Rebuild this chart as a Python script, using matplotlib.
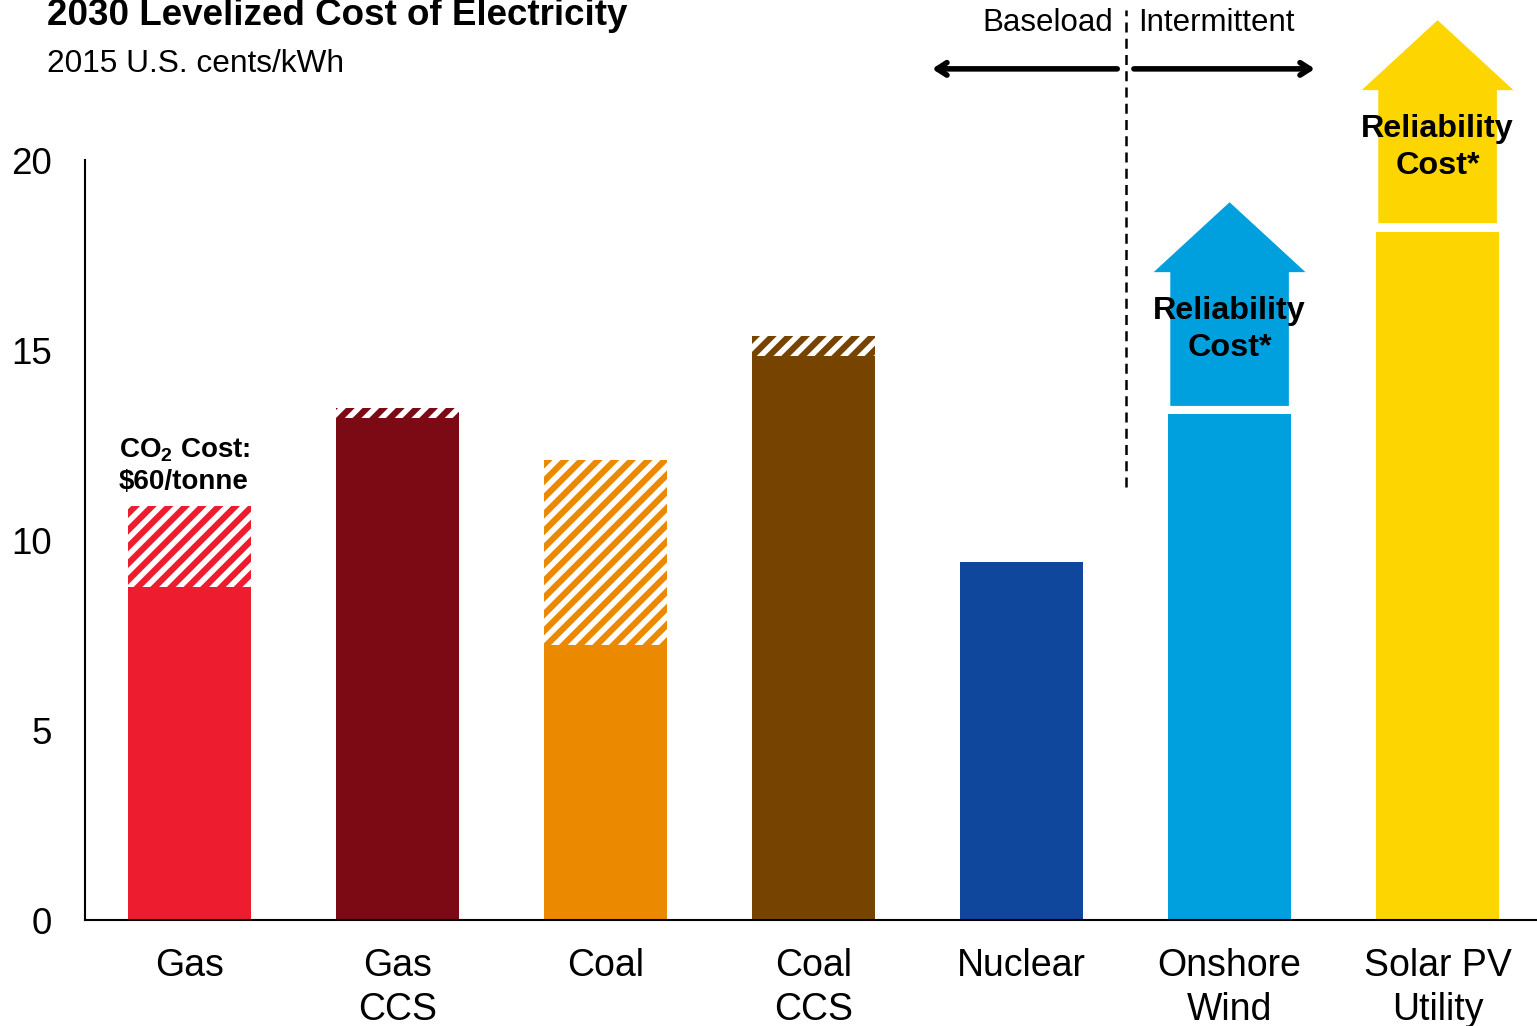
import matplotlib.pyplot as plt
from matplotlib.patches import Polygon

plt.rcParams['font.family'] = ['Liberation Sans', 'DejaVu Sans']
plt.rcParams['hatch.linewidth'] = 4.0
plt.rcParams['mathtext.fontset'] = 'custom'
plt.rcParams['mathtext.bf'] = 'Liberation Sans:bold'

# data (2015 U.S. cents/kWh)
categories = ['Gas', 'Gas\nCCS', 'Coal', 'Coal\nCCS', 'Nuclear', 'Onshore\nWind', 'Solar PV\nUtility']
base_cost = [8.76, 13.2, 7.24, 14.84, 9.42, 13.32, 18.11]
co2_cost = [2.13, 0.27, 4.86, 0.53, 0, 0, 0]
colors = ['#ED1C2E', '#7B0A14', '#EB8A00', '#774400', '#0E479C', '#00A0DF', '#FDD500']

# reliability cost arrows: (category index, shaft bottom, head base, tip)
rel_idx = [5, 6]
rel_bottom = [13.53, 18.34]
rel_head = [17.05, 21.84]
rel_tip = [18.89, 23.68]

yticks = [0, 5, 10, 15, 20]

fig = plt.figure(figsize=(15.37, 10.26), dpi=100)
ax = fig.add_axes([0.0556, 0.1033, 0.9474, 0.7407])

x = list(range(len(categories)))
bar_w = 0.59
ax.bar(x, base_cost, width=bar_w, color=colors, linewidth=0)
for i in x:
    if co2_cost[i] > 0:
        ax.bar(i, co2_cost[i], bottom=base_cost[i], width=bar_w, color=colors[i],
               edgecolor='white', hatch='//', linewidth=0)

shaft_w = 0.57
head_w = 0.73
for k, i in enumerate(rel_idx):
    b, h, t = rel_bottom[k], rel_head[k], rel_tip[k]
    pts = [(i - shaft_w / 2, b), (i + shaft_w / 2, b), (i + shaft_w / 2, h),
           (i + head_w / 2, h), (i, t), (i - head_w / 2, h), (i - shaft_w / 2, h)]
    ax.add_patch(Polygon(pts, closed=True, facecolor=colors[i], edgecolor='none',
                         clip_on=False))
    ax.text(i, h - 1.5, 'Reliability\nCost*', ha='center', va='center',
            fontsize=23.3, fontweight='bold', linespacing=1.3)

ax.text(-0.34, 11.95, r'CO$_\mathbf{2}$ Cost:' + '\n$60/tonne', ha='left', va='center',
        fontsize=20, fontweight='bold', linespacing=1.25)

# baseload / intermittent divider
ax.plot([4.5, 4.5], [11.4, 23.95], color='black', lw=1.8, ls=(0, (4, 2.5)), clip_on=False)
ax.annotate('', xy=(3.57, 22.4), xytext=(4.46, 22.4),
            arrowprops=dict(arrowstyle='->, head_length=0.7, head_width=0.45', lw=4,
                            color='black', shrinkA=0, shrinkB=0), annotation_clip=False)
ax.annotate('', xy=(5.41, 22.4), xytext=(4.54, 22.4),
            arrowprops=dict(arrowstyle='->, head_length=0.7, head_width=0.45', lw=4,
                            color='black', shrinkA=0, shrinkB=0), annotation_clip=False)
ax.text(4.44, 23.4, 'Baseload', ha='right', va='baseline', fontsize=22.5)
ax.text(4.56, 23.4, 'Intermittent', ha='left', va='baseline', fontsize=22.5)

ax.set_xlim(-0.5, 6.5)
ax.set_ylim(0, 20)
ax.set_xticks(x)
ax.set_xticklabels(categories, fontsize=27, linespacing=1.3)
ax.set_yticks(yticks)
ax.set_yticklabels([str(v) for v in yticks], fontsize=26.5)
ax.tick_params(axis='y', length=0, pad=24)
ax.tick_params(axis='x', length=0, pad=20)
for s in ['top', 'right']:
    ax.spines[s].set_visible(False)
for s in ['left', 'bottom']:
    ax.spines[s].set_linewidth(1.5)

fig.text(47 / 1537, 1 - 25 / 1026, '2030 Levelized Cost of Electricity',
         fontsize=26.5, fontweight='bold', va='baseline')
fig.text(47 / 1537, 1 - 72 / 1026, '2015 U.S. cents/kWh', fontsize=22.8, va='baseline')

fig.savefig('out.png', dpi=100)
